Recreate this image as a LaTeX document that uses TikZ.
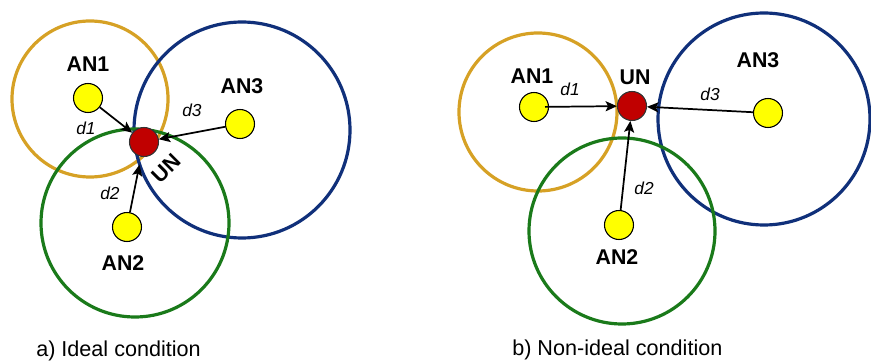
\documentclass[tikz,border=0pt]{standalone}
\usepackage{fontspec}
\setmainfont{Liberation Sans}
\usetikzlibrary{arrows.meta}
\definecolor{rngorange}{HTML}{D6A125}
\definecolor{rngblue}{HTML}{10307A}
\definecolor{rnggreen}{HTML}{1A7A1A}
\definecolor{unred}{HTML}{C00000}
\definecolor{anyellow}{HTML}{FFFF00}
\begin{document}
\begin{tikzpicture}[x=0.75pt,y=-0.75pt,
  rng/.style={line width=2.4pt},
  anode/.style={circle,draw=black,line width=0.8pt,fill=anyellow,minimum size=21.75pt,inner sep=0pt},
  unode/.style={circle,draw=black!80,line width=0.8pt,fill=unred,minimum size=21.75pt,inner sep=0pt},
  lbl/.style={font=\bfseries\fontsize{16}{16}\selectfont,inner sep=0pt},
  dlbl/.style={font=\itshape\fontsize{13}{13}\selectfont,inner sep=0pt},
  caplbl/.style={font=\fontsize{16.2}{17}\selectfont,inner sep=0pt,anchor=base west},
  arr/.style={-{Stealth[length=8.5pt,width=7.5pt,inset=1.8pt]},line width=1.3pt}]
\useasboundingbox (0,0) rectangle (871,363);

% ---------- a) ideal ----------
\draw[rng,rngorange] (90,99) circle[radius=78];
\draw[rng,rngblue] (242,130) circle[radius=108];
\draw[rng,rnggreen] (135,223) circle[radius=94];

\node[anode] (a1) at (88,98) {};
\node[anode] (a3) at (240,124) {};
\node[anode] (a2) at (127,227) {};
\node[unode] (aun) at (144,142) {};

\draw[arr] (a1) -- (aun);
\draw[arr] (a3) -- (aun);
\draw[arr,shorten >=6pt] (a2) -- (aun);

\node[lbl] (la1) at (88,64) {AN1};
\node[lbl] (la3) at (242,86) {AN3};
\node[lbl] (la2) at (123,263) {AN2};
\node[lbl,rotate=45] (laun) at (166,168) {UN};
\node[dlbl] (ad1) at (86,128) {d1};
\node[dlbl] (ad3) at (192,110) {d3};
\node[dlbl] (ad2) at (110,193) {d2};
\node[caplbl] (capa) at (36,356) {a) Ideal condition};

% ---------- b) non-ideal ----------
\draw[rng,rngorange] (538,112) circle[radius=79];
\draw[rng,rngblue] (764,119) circle[radius=106];
\draw[rng,rnggreen] (622,231) circle[radius=93];

\node[anode] (b1) at (534,107) {};
\node[anode] (b3) at (768,113) {};
\node[anode] (b2) at (619,225) {};
\node[unode] (bun) at (632,106) {};

\draw[arr,shorten <=8.25pt] (b1.center) -- (bun);
\draw[arr] (b3) -- (bun);
\draw[arr] (b2) -- (bun);

\node[lbl] (lb1) at (532,76) {AN1};
\node[lbl] (lbun) at (635,77) {UN};
\node[lbl] (lb3) at (758,60) {AN3};
\node[lbl] (lb2) at (617,257) {AN2};
\node[dlbl] (bd1) at (570,89) {d1};
\node[dlbl] (bd3) at (710,94) {d3};
\node[dlbl] (bd2) at (644,188) {d2};
\node[caplbl] (capb) at (512,355) {b) Non-ideal condition};
\end{tikzpicture}
\end{document}
